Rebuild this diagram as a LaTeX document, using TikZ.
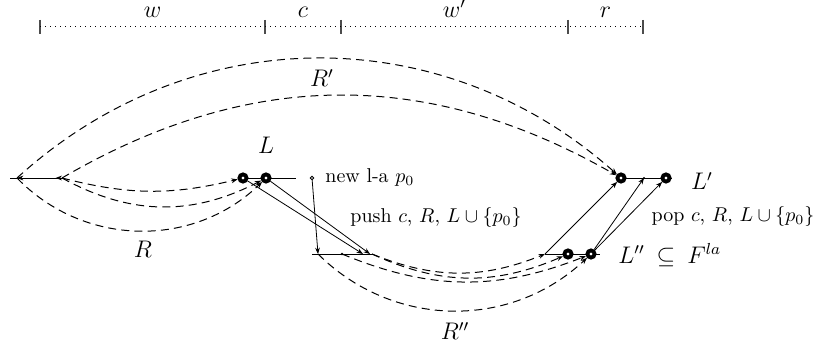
\documentclass[tikz,border=0pt]{standalone}
\usetikzlibrary{arrows.meta,calc,backgrounds}
\begin{document}
\begin{tikzpicture}[x=0.5pt,y=-0.5pt,
  >={Stealth[length=3.2pt,width=2.4pt]},
  every node/.style={inner sep=0pt},
  bigdot/.style={circle, draw, line width=1.9pt, fill=white, minimum size=3.6pt},
  smalldot/.style={circle, draw, line width=0.4pt, fill=white, minimum size=1.8pt},
  lab/.style={font=\large},
  txt/.style={font=\normalsize},
  la/.style={dash pattern=on 4pt off 2.6pt, line width=0.5pt},
  ruler/.style={dotted, line width=0.5pt},
  tick/.style={line width=0.6pt, draw=black!70}
]
\useasboundingbox (0,0) rectangle (819,347);

% ruler over the input
\foreach \x/\n in {40/t0,265/t1,341/t2,568/t3,643/t4}{
  \coordinate (\n) at (\x,27);
  \draw[tick] (\n) +(0,-7) -- +(0,7);
}
\draw[ruler] (t0) -- (t4);
\node[lab, anchor=base] (lw)  at ($(t0)!.5!(t1)+(0,-9.5)$) {$w$};
\node[lab, anchor=base] (lc)  at ($(t1)!.5!(t2)+(0,-9.5)$) {$c$};
\node[lab, anchor=base] (lw2) at ($(t2)!.5!(t3)+(0,-9.5)$) {$w'$};
\node[lab, anchor=base] (lr)  at ($(t3)!.5!(t4)+(0,-9.5)$) {$r$};

% stack points
\coordinate (s0) at (10,178);
\coordinate (s1) at (17,178);
\coordinate (s2) at (62,178);
\node[bigdot] (l1) at (243,178) {};
\node[bigdot] (l2) at (266,178) {};
\coordinate (le) at (296,178);
\node[smalldot] (p0) at (312,178) {};

\coordinate (m0) at (312,254);
\coordinate (m1) at (318,254);
\coordinate (m2) at (342,254);
\coordinate (m3) at (363,254);
\coordinate (m4) at (370,254);
\coordinate (m5) at (372,254);

\coordinate (n0) at (545,254);
\node[bigdot] (n1) at (568,254) {};
\node[bigdot] (n2) at (591,254) {};
\coordinate (n3) at (600,254);

\node[bigdot] (u1) at (621,178) {};
\coordinate (u2) at (644,178);
\node[bigdot] (u3) at (666,178) {};
\coordinate (u4) at (672,178);

\begin{scope}[on background layer]
  \draw (s0) -- (s2);
  \draw (l1.center) -- (le);
  \draw (m0) -- (m5);
  \draw (n0) -- (n3);
  \draw (u1.center) -- (u4);
\end{scope}
\draw[>->] (s2) -- (s1);
\fill (m2) circle (0.7pt);
\fill (u2) circle (0.6pt);

% dashed runs
\draw[la,->] (s1) to[bend left=42] (u1);
\draw[la,->] (s2) to[bend left=30] (u1);
\draw[la,->] (s2) to[bend right=14] (l1);
\draw[la,->] (s2) to[bend right=28] (l2);
\draw[la,->] (s1) to[bend right=45] (l2);

\draw[la,->] (m5) to[bend right=22] (n0);
\draw[la,->] (m5) to[bend right=24] (n1);
\draw[la,->] (m2) to[bend right=22] (n2);
\draw[la,->] (m1) to[bend right=44] (n2);

% push / pop
\draw[->] (l1) -- (m3);
\draw[->] (l2) -- (m4);
\draw[->] (p0) -- (m1);
\draw[->] (n0) -- (u1);
\draw[->] (n2) -- (u2);
\draw[->] (n2) -- (u3);

\node[lab] (lRp) at (322,78) {$R'$};
\node[lab] (lL)  at (266,145) {$L$};
\node[lab] (lR)  at (143,249) {$R$};
\node[lab] (lRpp) at (455,331) {$R''$};
\node[lab] (lLp) at (702,181) {$L'$};
\node[lab, anchor=west] (lLpp) at (618,255) {$L'' \:\subseteq\: F^{la}$};
\node[txt, anchor=west] (tnew) at (325,178) {new l-a $p_0$};
\node[txt] (tpush) at (436,218) {push $c$, $R$, $L \cup \{p_0\}$};
\node[txt] (tpop) at (733,217) {pop $c$, $R$, $L \cup \{p_0\}$};
\end{tikzpicture}
\end{document}
